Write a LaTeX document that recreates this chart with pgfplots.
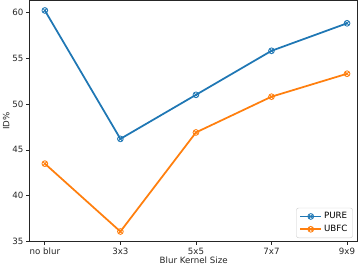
\documentclass[border=0pt]{standalone}
\usepackage{pgfplots}
\pgfplotsset{compat=1.18}
\usepackage{fontspec}
\setmainfont{DejaVu Sans}
\definecolor{tabblue}{HTML}{1F77B4}
\definecolor{taborange}{HTML}{FF7F0E}
\begin{document}
\fontsize{8.4}{10}\selectfont
\begin{tikzpicture}
\begin{axis}[
  scale only axis,
  width=318pt, height=234pt,
  xmin=-0.2, xmax=4.14,
  ymin=35, ymax=61.3,
  xtick={0,1,2,3,4},
  xticklabels={no blur,3x3,5x5,7x7,9x9},
  ytick={35,40,45,50,55,60},
  /pgf/number format/assume math mode=true,
  tick style={black!85, line width=0.7pt},
  major tick length=3.2pt,
  tick align=outside,
  xtick pos=bottom, ytick pos=left,
  axis line style={black!85, line width=0.7pt},
  tick label style={font=\fontsize{8.4}{10}\selectfont, text=black!85},
  label style={font=\fontsize{8.4}{10}\selectfont, text=black!85},
  xlabel={Blur Kernel Size},
  ylabel={ID\%},
  xlabel style={yshift=4pt},
  ylabel style={yshift=-3pt},
  legend style={at={(0.985,0.015)}, anchor=south east, draw=black!20, rounded corners=2pt,
    font=\fontsize{8.4}{10}\selectfont, row sep=1pt, inner xsep=3pt, inner ysep=2.5pt},
  legend cell align=left,
  legend image code/.code={\draw[#1] (0pt,0pt) -- (20pt,0pt); \draw[#1, mark repeat=2, mark phase=2] plot coordinates {(0pt,0pt) (10pt,0pt) (20pt,0pt)};},
]
\addplot[tabblue, line width=1.7pt, mark=otimes, mark size=2.8pt, mark options={line width=0.8pt}]
  coordinates {(0,60.2) (1,46.2) (2,51.0) (3,55.8) (4,58.8)};
\addlegendentry{PURE}
\addplot[taborange, line width=1.7pt, mark=otimes, mark size=2.8pt, mark options={line width=0.8pt}]
  coordinates {(0,43.5) (1,36.1) (2,46.9) (3,50.8) (4,53.3)};
\addlegendentry{UBFC}
\end{axis}
\end{tikzpicture}
\end{document}
